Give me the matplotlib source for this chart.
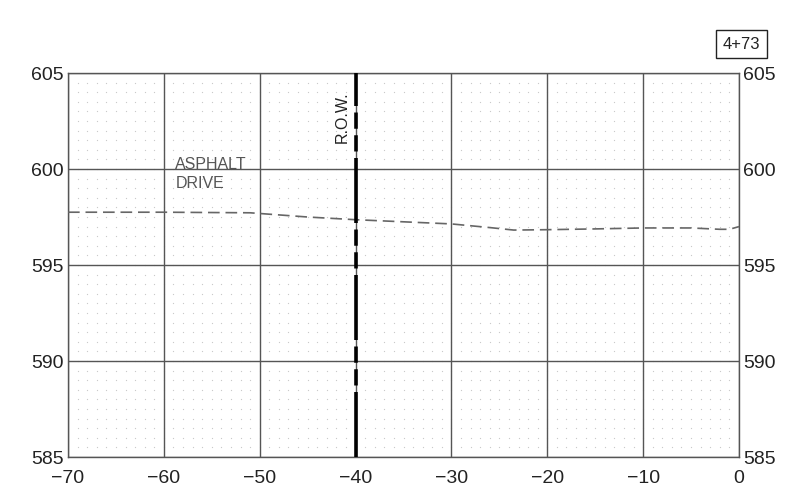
import numpy as np
import matplotlib
matplotlib.use('Agg')
import matplotlib.pyplot as plt

plt.rcParams['font.family'] = ['Liberation Sans', 'DejaVu Sans']

# ground profile (offset ft, elevation ft)
offset = [-70, -60, -51, -45, -40, -35, -30, -26, -23.5, -20, -15, -10, -5, -2, -1, 0]
elev = [597.75, 597.75, 597.72, 597.5, 597.36, 597.25, 597.14, 596.95, 596.82, 596.84, 596.88, 596.93, 596.93, 596.86, 596.86, 597.0]

row_offset = -40
xticks = [-70, -60, -50, -40, -30, -20, -10, 0]
yticks = [585, 590, 595, 600, 605]
station = '4+73'

fig = plt.figure(figsize=(8, 4.96), dpi=100)
ax = fig.add_axes([0.085, 0.0786, 0.83875, 0.7742])
ax.set_xlim(-70, 0)
ax.set_ylim(585, 605)

# faint dot grid
gx, gy = np.meshgrid(np.arange(-69, 0, 1.0), np.arange(585.5, 605, 0.5))
ax.scatter(gx.ravel(), gy.ravel(), s=0.8, color='#c8c8c8', linewidths=0, zorder=0)

ax.set_xticks(xticks)
ax.set_yticks(yticks)
ax.set_xticklabels([str(t).replace('-', '\u2212') for t in xticks])
ax.grid(True, color='#555555', linewidth=1.0)
ax.tick_params(length=0, labelsize=14, pad=3, labelright=True, colors='#222222')
ax.tick_params(axis='x', pad=9)
for s in ax.spines.values():
    s.set_color('#555555')
    s.set_linewidth(1.0)

# existing ground
ax.plot(offset, elev, color='#666666', linewidth=1.2, dashes=(7, 3.5), zorder=3)

# right of way line
ax.plot([row_offset, row_offset], [585, 605], color='black', linewidth=2.6,
        dashes=(18, 1.8, 4.5, 1.8, 4.5, 1.8), zorder=4)
ax.text(-41.4, 602.7, 'R.O.W.', rotation=90, ha='center', va='center', fontsize=11.5, color='#222222')

ax.text(-58.8, 599.75, 'ASPHALT\nDRIVE', ha='left', va='center', fontsize=11.5, color='#555555',
        linespacing=1.3)

fig.text(0.927, 0.911, station, ha='center', va='center', fontsize=12, color='#222222',
         bbox=dict(boxstyle='square,pad=0.4', facecolor='white', edgecolor='#222222', linewidth=1.0))

fig.savefig('out.png', dpi=100)
